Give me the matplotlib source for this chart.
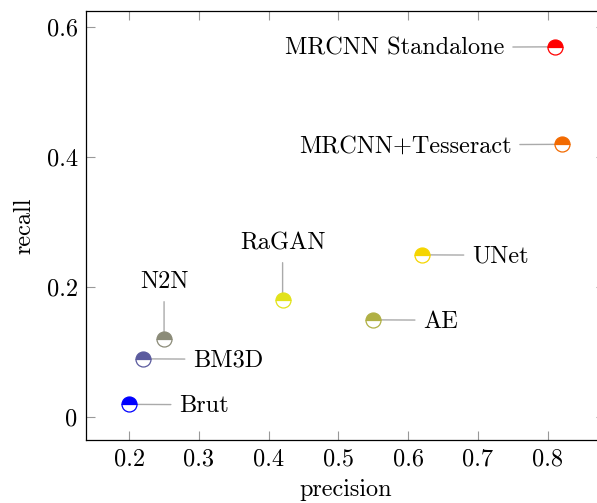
"""Precision/recall scatter of text-recognition pipelines."""

import matplotlib

matplotlib.use("Agg")
import matplotlib.pyplot as plt
from matplotlib.ticker import FuncFormatter

plt.rcParams["font.family"] = "serif"
plt.rcParams["font.serif"] = ["cmr10", "DejaVu Serif"]
plt.rcParams["mathtext.fontset"] = "cm"
plt.rcParams["axes.formatter.use_mathtext"] = True

methods = ["Brut", "BM3D", "N2N", "RaGAN", "AE", "UNet",
           "MRCNN+Tesseract", "MRCNN Standalone"]
precision = [0.20, 0.22, 0.25, 0.42, 0.55, 0.62, 0.82, 0.81]
recall = [0.02, 0.09, 0.12, 0.18, 0.15, 0.25, 0.42, 0.57]
colors = ["#0000ff", "#5b5b9e", "#8b8b78", "#e2e21a", "#b0b044",
          "#f5d500", "#f26a00", "#ff0000"]
# where each label sits relative to its point
label_side = ["right", "right", "above", "above", "right", "right",
              "left", "left"]

x_ticks = [0.2, 0.3, 0.4, 0.5, 0.6, 0.7, 0.8]
y_ticks = [0, 0.2, 0.4, 0.6]

FS = 17.5

fig = plt.figure(figsize=(5.97, 5.03), dpi=100)
ax = fig.add_axes([0.144, 0.125, 0.869, 0.853])

for name, x, y, c, side in zip(methods, precision, recall, colors, label_side):
    ax.plot(x, y, "o", markersize=10.8, markeredgewidth=0.9, color=c,
            markerfacecolor=c, markeredgecolor=c, fillstyle="top",
            markerfacecoloralt="white", zorder=3, clip_on=False)
    # text drops 2px so the caps sit level with the point; relpos keeps the pin flat
    if side == "right":
        offset, ha, va, rel = (50, -2), "left", "center", (0, 0.58)
    elif side == "left":
        offset, ha, va, rel = (-50, -2), "right", "center", (1, 0.58)
    else:
        offset, ha, va, rel = (0, 46), "center", "bottom", (0.5, 0.5)
    ax.annotate(name, (x, y), xytext=offset, textcoords="offset pixels",
                ha=ha, va=va, fontsize=FS, zorder=2,
                arrowprops=dict(arrowstyle="-", color="#aaaaaa", lw=1.0,
                                shrinkA=4, shrinkB=0, relpos=rel))

ax.set_xlim(0.138, 0.882)
ax.set_ylim(-0.035, 0.625)
ax.set_xticks(x_ticks)
ax.set_yticks(y_ticks)
fmt = FuncFormatter(lambda v, _: f"{v:g}")
ax.xaxis.set_major_formatter(fmt)
ax.yaxis.set_major_formatter(fmt)
ax.tick_params(direction="in", length=6.5, width=0.8, color="#999999",
               top=True, right=True, labelsize=FS, pad=6)
for spine in ax.spines.values():
    spine.set_linewidth(0.9)

ax.set_xlabel("precision", fontsize=FS, labelpad=6)
ax.set_ylabel("recall", fontsize=FS, labelpad=8)

fig.savefig("out.png", dpi=100)
